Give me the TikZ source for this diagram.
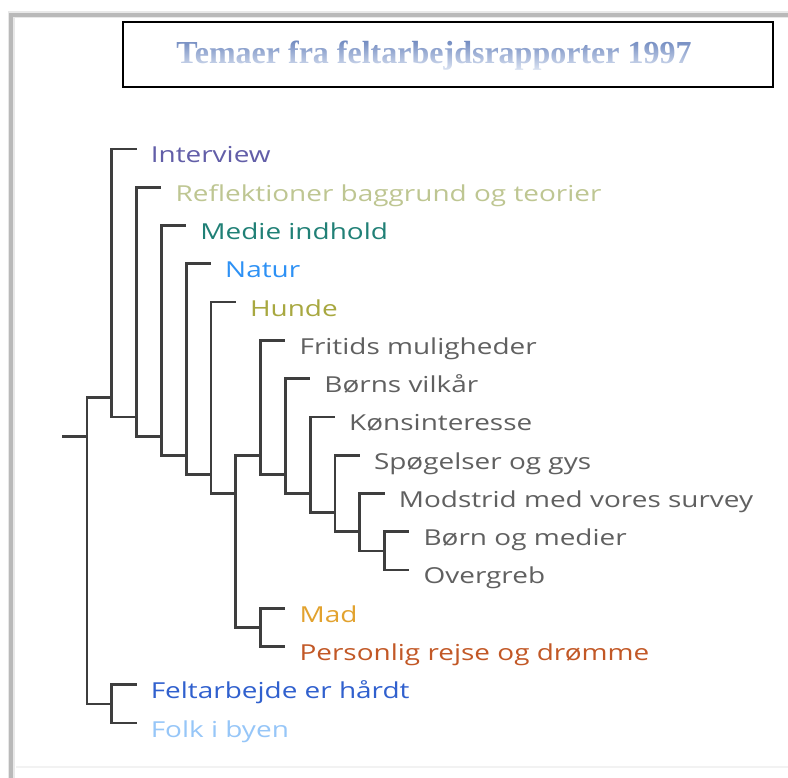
\documentclass[tikz,border=0pt]{standalone}
\usepackage{fontspec}
\usepackage{xcolor}
\usepackage{tikz}
\usetikzlibrary{fadings}

\newfontfamily\labfont[FakeStretch=1.27]{Open Sans}
\newfontfamily\headfont{Liberation Serif}

\definecolor{branch}{RGB}{62,62,62}
\definecolor{cint}{RGB}{98,94,168}
\definecolor{cref}{RGB}{190,198,146}
\definecolor{cmed}{RGB}{32,128,118}
\definecolor{cnat}{RGB}{45,145,245}
\definecolor{chun}{RGB}{168,168,64}
\definecolor{cgry}{RGB}{96,96,96}
\definecolor{cmad}{RGB}{226,162,46}
\definecolor{cper}{RGB}{194,88,38}
\definecolor{cfel}{RGB}{48,96,206}
\definecolor{cfol}{RGB}{150,198,248}
\definecolor{ttop}{RGB}{108,134,190}
\definecolor{tbot}{RGB}{226,233,245}

\begin{tikzfadingfrompicture}[name=headfade]
  \node[text=transparent!0,inner sep=0pt,font=\headfont\bfseries\fontsize{32}{32}\selectfont] {Temaer fra feltarbejdsrapporter 1997};
\end{tikzfadingfrompicture}

\begin{document}
\begin{tikzpicture}[x=1pt,y=-1pt,
  br/.style={line width=2.7pt,draw=branch,line join=miter},
  lf/.style={anchor=base west,inner sep=0pt,font=\labfont\fontsize{22}{22}\selectfont}
]
\useasboundingbox (0,0) rectangle (788,778);
\fill[white] (0,0) rectangle (788,778);

\draw[line width=7pt,gray!18] (11,778) |- (788,15);
\draw[line width=3.5pt,gray!55] (11,778) |- (788,15);
\draw[line width=1.2pt,gray!10] (16,767) -- (788,767);

\node[draw=black,line width=1.3pt,minimum width=650pt,minimum height=65pt,inner sep=0pt] (titlebox) at (448,54.5) {};
\shade[path fading=headfade,fit fading=false,fading transform={shift={(434,55.5)}},top color=ttop,bottom color=tbot] (154,39) rectangle (714,72);

\coordinate (stub) at (62,436.2);
\coordinate (root) at (87,436.2);
\coordinate (a) at (111.8,397.8);
\coordinate (ff) at (111.8,704);
\coordinate (b) at (136.6,417);
\coordinate (c) at (161.4,436.2);
\coordinate (d) at (186.2,455.2);
\coordinate (e) at (211,474.4);
\coordinate (f) at (235.8,493.4);
\coordinate (g) at (260.6,455.2);
\coordinate (mp) at (260.6,627.4);
\coordinate (h) at (285.4,474.4);
\coordinate (i) at (310.2,493.4);
\coordinate (j) at (335,512.6);
\coordinate (k) at (359.8,531.7);
\coordinate (bo) at (384.6,550.9);

\foreach \n/\x/\col/\txt in {
  1/136.6/cint/Interview,
  2/161.4/cref/Reflektioner baggrund og teorier,
  3/186.2/cmed/Medie indhold,
  4/211/cnat/Natur,
  5/235.8/chun/Hunde,
  6/285.4/cgry/Fritids muligheder,
  7/310.2/cgry/Børns vilkår,
  8/335/cgry/Kønsinteresse,
  9/359.8/cgry/Spøgelser og gys,
  10/384.6/cgry/Modstrid med vores survey,
  11/409.4/cgry/Børn og medier,
  12/409.4/cgry/Overgreb,
  13/285.4/cmad/Mad,
  14/285.4/cper/Personlig rejse og drømme,
  15/136.6/cfel/Feltarbejde er hårdt,
  16/136.6/cfol/Folk i byen}{
  \pgfmathsetmacro\yy{149+(\n-1)*38.27}
  \coordinate (t\n) at (\x,\yy);
  \node[lf,text=\col] (l\n) at (\x+14,\yy+14) {\txt};
}

\draw[br] (stub) -- (root);
\draw[br] (root) |- (a);  \draw[br] (root) |- (ff);
\draw[br] (a) |- (t1);    \draw[br] (a) |- (b);
\draw[br] (b) |- (t2);    \draw[br] (b) |- (c);
\draw[br] (c) |- (t3);    \draw[br] (c) |- (d);
\draw[br] (d) |- (t4);    \draw[br] (d) |- (e);
\draw[br] (e) |- (t5);    \draw[br] (e) |- (f);
\draw[br] (f) |- (g);     \draw[br] (f) |- (mp);
\draw[br] (g) |- (t6);    \draw[br] (g) |- (h);
\draw[br] (h) |- (t7);    \draw[br] (h) |- (i);
\draw[br] (i) |- (t8);    \draw[br] (i) |- (j);
\draw[br] (j) |- (t9);    \draw[br] (j) |- (k);
\draw[br] (k) |- (t10);   \draw[br] (k) |- (bo);
\draw[br] (bo) |- (t11);  \draw[br] (bo) |- (t12);
\draw[br] (mp) |- (t13);  \draw[br] (mp) |- (t14);
\draw[br] (ff) |- (t15);  \draw[br] (ff) |- (t16);
\end{tikzpicture}
\end{document}
